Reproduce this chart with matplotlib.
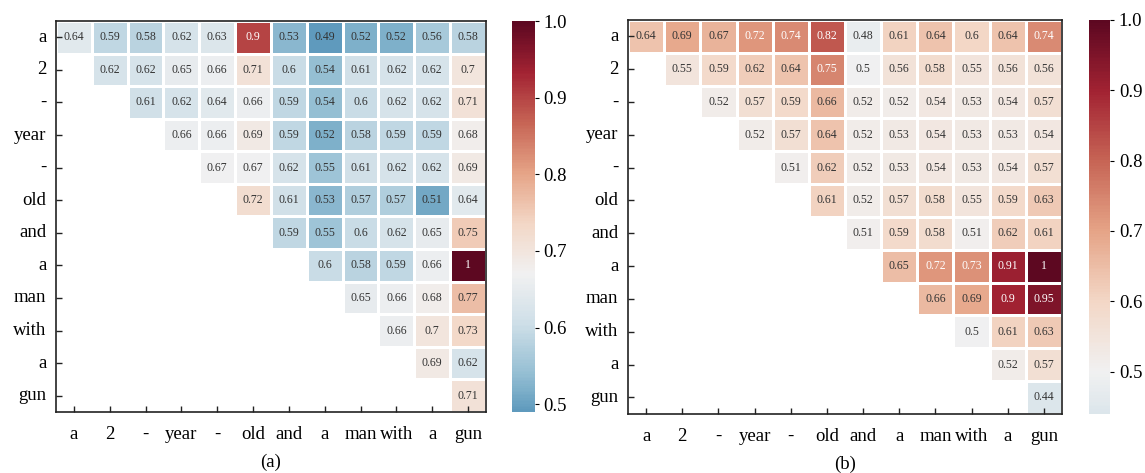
import numpy as np
import matplotlib
matplotlib.use("Agg")
import matplotlib.pyplot as plt
from matplotlib.colors import ListedColormap
import seaborn as sns

plt.rcParams['font.family'] = ['Liberation Serif', 'DejaVu Serif']

tokens = ['a', '2', '-', 'year', '-', 'old', 'and', 'a', 'man', 'with', 'a', 'gun']

# upper triangle rows (row i starts at column i)
rows_a = [
    [0.64, 0.59, 0.58, 0.62, 0.63, 0.9, 0.53, 0.49, 0.52, 0.52, 0.56, 0.58],
    [0.62, 0.62, 0.65, 0.66, 0.71, 0.6, 0.54, 0.61, 0.62, 0.62, 0.7],
    [0.61, 0.62, 0.64, 0.66, 0.59, 0.54, 0.6, 0.62, 0.62, 0.71],
    [0.66, 0.66, 0.69, 0.59, 0.52, 0.58, 0.59, 0.59, 0.68],
    [0.67, 0.67, 0.62, 0.55, 0.61, 0.62, 0.62, 0.69],
    [0.72, 0.61, 0.53, 0.57, 0.57, 0.51, 0.64],
    [0.59, 0.55, 0.6, 0.62, 0.65, 0.75],
    [0.6, 0.58, 0.59, 0.66, 1.0],
    [0.65, 0.66, 0.68, 0.77],
    [0.66, 0.7, 0.73],
    [0.69, 0.62],
    [0.71],
]

rows_b = [
    [0.64, 0.69, 0.67, 0.72, 0.74, 0.82, 0.48, 0.61, 0.64, 0.6, 0.64, 0.74],
    [0.55, 0.59, 0.62, 0.64, 0.75, 0.5, 0.56, 0.58, 0.55, 0.56, 0.56],
    [0.52, 0.57, 0.59, 0.66, 0.52, 0.52, 0.54, 0.53, 0.54, 0.57],
    [0.52, 0.57, 0.64, 0.52, 0.53, 0.54, 0.53, 0.53, 0.54],
    [0.51, 0.62, 0.52, 0.53, 0.54, 0.53, 0.54, 0.57],
    [0.61, 0.52, 0.57, 0.58, 0.55, 0.59, 0.63],
    [0.51, 0.59, 0.58, 0.51, 0.62, 0.61],
    [0.65, 0.72, 0.73, 0.91, 1.0],
    [0.66, 0.69, 0.9, 0.95],
    [0.5, 0.61, 0.63],
    [0.52, 0.57],
    [0.44],
]

cbar_ticks = [0.5, 0.6, 0.7, 0.8, 0.9, 1.0]

# slightly muted RdBu_r
cmap = ListedColormap(np.array(sns.color_palette('RdBu_r', 256, desat=0.85)) * 0.975)


def to_matrix(rows):
    n = len(rows)
    m = np.full((n, n), np.nan)
    for i, r in enumerate(rows):
        m[i, i:] = r
    return m


def draw(ax, cax, data, center, white_from, caption):
    mask = np.isnan(data)
    sns.heatmap(data, mask=mask, ax=ax, cbar_ax=cax, cmap=cmap, center=center,
                annot=True, fmt='g', annot_kws={'fontsize': 8.5},
                linewidths=1, linecolor='white',
                xticklabels=tokens, yticklabels=tokens)
    # text colour: white only on the darkest cells
    for t in ax.texts:
        v = float(t.get_text())
        t.set_color('white' if v >= white_from else '#333333')
    for s in ax.spines.values():
        s.set_visible(True)
        s.set_color('#222222')
        s.set_linewidth(1.2)
    ax.tick_params(axis='both', direction='in', length=4, width=1, labelsize=13.5,
                   color='#222222')
    ax.tick_params(axis='y', pad=7)
    ax.tick_params(axis='x', pad=10)
    ax.set_yticklabels(tokens, rotation=0)
    ax.set_xticklabels(tokens, rotation=0)
    cax.tick_params(labelsize=13.5, length=3, width=0.8)
    cax.set_yticks(cbar_ticks)
    cax.set_yticklabels(['%.1f' % t for t in cbar_ticks])
    ax.text(0.5, -0.128, caption, transform=ax.transAxes, ha='center', va='center',
            fontsize=13.5)


fig = plt.figure(figsize=(11.45, 4.73), dpi=100)
ax1 = fig.add_axes([0.0489, 0.129, 0.3755, 0.8266])
cax1 = fig.add_axes([0.447, 0.129, 0.020, 0.8266])
ax2 = fig.add_axes([0.5485, 0.125, 0.379, 0.833])
cax2 = fig.add_axes([0.951, 0.125, 0.0183, 0.833])

draw(ax1, cax1, to_matrix(rows_a), 0.67, 0.85, '(a)')
draw(ax2, cax2, to_matrix(rows_b), 0.5, 0.72, '(b)')

plt.savefig('out.png', dpi=100)
